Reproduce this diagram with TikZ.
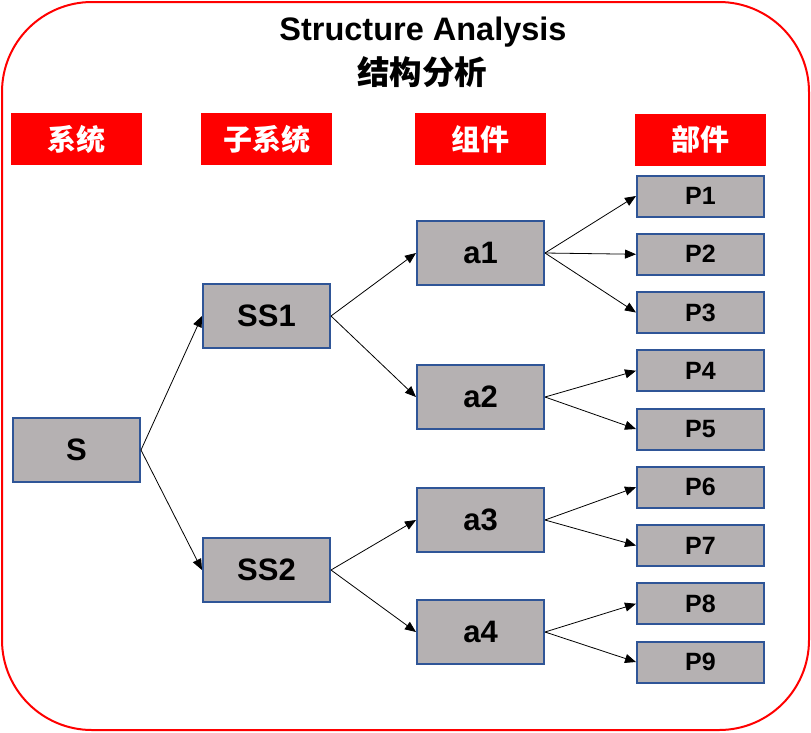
\documentclass[tikz,border=0pt]{standalone}
\usepackage{fontspec}
\setmainfont{Liberation Sans}
\newfontfamily\cjk{Noto Sans CJK SC}
\usepackage{xcolor}
\usetikzlibrary{arrows.meta,positioning}
\definecolor{boxgray}{RGB}{181,177,178}
\definecolor{boxblue}{RGB}{47,85,151}

\begin{document}
\begin{tikzpicture}[
  x=1pt,y=-1pt,
  node distance=15.25pt and 90pt,
  hd/.style={fill=red,text=white,minimum width=131pt,minimum height=52pt,font=\cjk\bfseries\fontsize{29}{32}\selectfont},
  b/.style={draw=boxblue,line width=2pt,fill=boxgray,minimum width=127pt,minimum height=64pt,font=\bfseries\fontsize{31}{34}\selectfont},
  p/.style={b,minimum height=41pt,font=\bfseries\fontsize{25}{28}\selectfont},
  a/.style={-{Triangle[length=11pt,width=9pt]},line width=0.8pt,draw=black}
]
\useasboundingbox (0,0) rectangle (811,732);
\draw[red,line width=2pt,rounded corners=90pt] (2,2) rectangle (809,730);
\node[font=\bfseries\fontsize{32.5}{36}\selectfont] (title) at (423,32) {Structure Analysis};
\node[font=\cjk\bfseries\fontsize{32.5}{36}\selectfont] (titlecn) at (422,72) {结构分析};
% column heads
\node[hd] (hsys) at (76.5,139) {系统};
\node[hd] (hsub) at (266.5,139) {子系统};
\node[hd] (hcomp) at (480,139) {组件};
\node[hd] (hpart) at (700.5,139.5) {部件};
% tree
\node[b] (s) at (76.5,450) {S};
\node[b] (ss1) at (266.5,316) {SS1};
\node[b] (ss2) at (266.5,570) {SS2};
\node[b] (a1) at (480.5,253) {a1};
\node[b] (a2) at (480.5,397) {a2};
\node[b] (a3) at (480.5,520) {a3};
\node[b] (a4) at (480.5,632) {a4};
\node[p] (p1) at (700.5,196) {P1};
\node[p,below=of p1] (p2) {P2};
\node[p,below=of p2] (p3) {P3};
\node[p,below=of p3] (p4) {P4};
\node[p,below=of p4] (p5) {P5};
\node[p,below=of p5] (p6) {P6};
\node[p,below=of p6] (p7) {P7};
\node[p,below=of p7] (p8) {P8};
\node[p,below=of p8] (p9) {P9};
\draw[a] (s.east)--(ss1.west);
\draw[a] (s.east)--(ss2.west);
\draw[a] (ss1.east)--(a1.west);
\draw[a] (ss1.east)--(a2.west);
\draw[a] (ss2.east)--(a3.west);
\draw[a] (ss2.east)--(a4.west);
\draw[a] (a1.east)--(p1.west);
\draw[a] (a1.east)--(p2.west);
\draw[a] (a1.east)--(p3.west);
\draw[a] (a2.east)--(p4.west);
\draw[a] (a2.east)--(p5.west);
\draw[a] (a3.east)--(p6.west);
\draw[a] (a3.east)--(p7.west);
\draw[a] (a4.east)--(p8.west);
\draw[a] (a4.east)--(p9.west);
\end{tikzpicture}
\end{document}
